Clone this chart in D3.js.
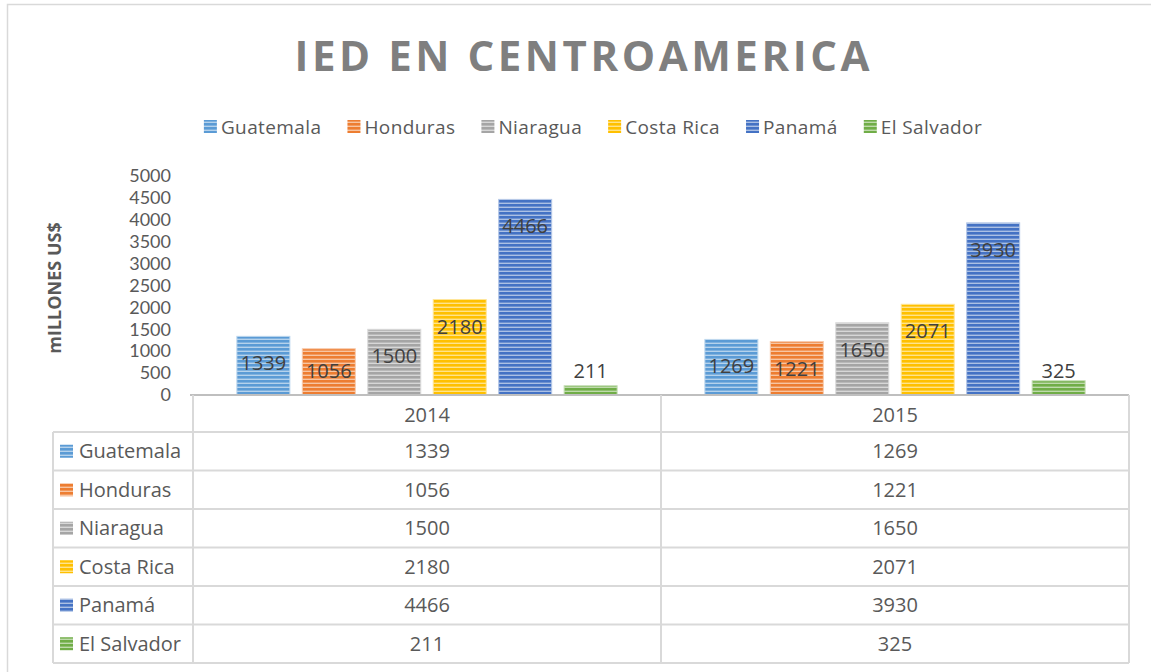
<!DOCTYPE html>
<html>
<head>
<meta charset="utf-8">
<script src="https://cdn.jsdelivr.net/npm/d3@7"></script>
<style>
  body { margin: 0; background: #fff; }
  svg { font-family: "Open Sans", sans-serif; }
</style>
</head>
<body>
<svg id="chart" width="1151" height="672"></svg>
<script>
// chart data
const years = ["2014", "2015"];
const countries = ["Guatemala", "Honduras", "Niaragua", "Costa Rica", "Panamá", "El Salvador"];
const values2014 = [1339, 1056, 1500, 2180, 4466, 211];
const values2015 = [1269, 1221, 1650, 2071, 3930, 325];
const yTicks = [0, 500, 1000, 1500, 2000, 2500, 3000, 3500, 4000, 4500, 5000];
const colors = ["#5b9bd5", "#ed7d31", "#a5a5a5", "#ffc000", "#4472c4", "#70ad47"];

const seriesByYear = { "2014": values2014, "2015": values2015 };

const svg = d3.select("#chart");

// outer chart border (cropped at right/bottom like the reference)
svg.append("path")
  .attr("d", "M7.5,672 L7.5,4.5 L1151,4.5")
  .attr("fill", "none")
  .attr("stroke", "#d9d9d9")
  .attr("stroke-width", 1.5);

// striped fill patterns
const defs = svg.append("defs");
countries.forEach((c, i) => {
  const p = defs.append("pattern")
    .attr("id", "pat" + i)
    .attr("patternUnits", "userSpaceOnUse")
    .attr("width", 8)
    .attr("height", 4);
  p.append("rect").attr("width", 8).attr("height", 4)
    .attr("fill", d3.interpolateRgb(colors[i], "#fff")(0.55));
  p.append("rect").attr("width", 8).attr("height", 2.6)
    .attr("fill", colors[i]);
});

// title
svg.append("text")
  .attr("x", 582)
  .attr("y", 71)
  .attr("text-anchor", "middle")
  .attr("textLength", 575)
  .attr("lengthAdjust", "spacing")
  .style("font-size", "42px")
  .style("font-weight", "bold")
  .attr("fill", "#7f7f7f")
  .text("IED EN CENTROAMERICA");

// legend
const legend = svg.append("g");
let lx = 0;
countries.forEach((c, i) => {
  const g = legend.append("g").attr("transform", `translate(${lx},0)`);
  g.append("rect")
    .attr("x", 0).attr("y", -7)
    .attr("width", 13).attr("height", 13)
    .attr("fill", `url(#pat${i})`);
  const t = g.append("text")
    .attr("x", 17).attr("y", 7)
    .style("font-size", "19px")
    .style("letter-spacing", "0.4px")
    .attr("fill", "#595959")
    .text(c);
  lx += 17 + t.node().getComputedTextLength() + 26;
});
lx -= 26;
legend.attr("transform", `translate(${593 - lx / 2},127)`);

// scales
const x0 = d3.scaleBand()
  .domain(years)
  .range([193, 1129])
  .padding(0);

const x1 = d3.scaleBand()
  .domain(countries)
  .range([0, x0.bandwidth()])
  .paddingInner(0.19)
  .paddingOuter(0.67);

const y = d3.scaleLinear()
  .domain([0, 5000])
  .range([395, 176]);

// y axis labels (tight font so the stacked labels stay clear of each other)
svg.append("g")
  .attr("transform", "translate(171,0)")
  .call(d3.axisLeft(y).tickValues(yTicks).tickFormat(d3.format("d")).tickSize(0).tickPadding(0))
  .call(g => g.select(".domain").remove())
  .call(g => g.selectAll("text")
    .style("font-family", "Lato, sans-serif")
    .style("font-size", "18px")
    .attr("fill", "#595959"));

// y axis title
svg.append("text")
  .attr("transform", "translate(61,288) rotate(-90)")
  .attr("text-anchor", "middle")
  .style("font-size", "18px")
  .style("font-weight", "bold")
  .attr("fill", "#595959")
  .text("mILLONES US$");

// bars
const groups = svg.append("g")
  .selectAll("g")
  .data(years)
  .join("g")
  .attr("transform", d => `translate(${x0(d)},0)`);

groups.selectAll("rect")
  .data(yr => countries.map((c, i) => ({ key: c, i, value: seriesByYear[yr][i] })))
  .join("rect")
  .attr("x", d => x1(d.key))
  .attr("y", d => y(d.value))
  .attr("width", x1.bandwidth())
  .attr("height", d => y(0) - y(d.value))
  .attr("fill", d => `url(#pat${d.i})`)
  .attr("stroke", d => d3.interpolateRgb(colors[d.i], "#fff")(0.6))
  .attr("stroke-width", 1);

// data labels
groups.selectAll("text")
  .data(yr => countries.map((c, i) => ({ key: c, i, value: seriesByYear[yr][i] })))
  .join("text")
  .attr("x", d => x1(d.key) + x1.bandwidth() / 2)
  .attr("y", d => Math.min(y(d.value) + 27, y(0) - 24))
  .attr("dy", "0.35em")
  .attr("text-anchor", "middle")
  .style("font-size", "20px")
  .attr("fill", "#404040")
  .text(d => d.value);

// data table
const rowTop = 432, rowH = 38.5, headTop = 395;
const tableRight = 1129, labelLeft = 53;
const lineColor = "#d9d9d9";
const table = svg.append("g");

// horizontal lines
table.append("line")
  .attr("x1", 190).attr("x2", tableRight)
  .attr("y1", headTop).attr("y2", headTop)
  .attr("stroke", "#bfbfbf").attr("stroke-width", 2);
countries.concat([""]).forEach((c, i) => {
  table.append("line")
    .attr("x1", labelLeft).attr("x2", tableRight)
    .attr("y1", rowTop + i * rowH).attr("y2", rowTop + i * rowH)
    .attr("stroke", lineColor).attr("stroke-width", 2);
});
const tableBottom = rowTop + countries.length * rowH;

// vertical lines
[x0.range()[0], x0("2015"), tableRight].forEach(xv => {
  table.append("line")
    .attr("x1", xv).attr("x2", xv)
    .attr("y1", headTop).attr("y2", tableBottom)
    .attr("stroke", lineColor).attr("stroke-width", 2);
});
table.append("line")
  .attr("x1", labelLeft).attr("x2", labelLeft)
  .attr("y1", rowTop).attr("y2", tableBottom)
  .attr("stroke", lineColor).attr("stroke-width", 2);

// header (categories)
years.forEach(yr => {
  table.append("text")
    .attr("x", x0(yr) + x0.bandwidth() / 2)
    .attr("y", (headTop + rowTop) / 2 + 1)
    .attr("dy", "0.35em")
    .attr("text-anchor", "middle")
    .style("font-size", "20px")
    .attr("fill", "#595959")
    .text(yr);
});

// rows
countries.forEach((c, i) => {
  const cy = rowTop + i * rowH + rowH / 2;
  table.append("rect")
    .attr("x", 60).attr("y", cy - 6.5)
    .attr("width", 13).attr("height", 13)
    .attr("fill", `url(#pat${i})`);
  table.append("text")
    .attr("x", 79).attr("y", cy)
    .attr("dy", "0.35em")
    .style("font-size", "20px")
    .attr("fill", "#595959")
    .text(c);
  years.forEach(yr => {
    table.append("text")
      .attr("x", x0(yr) + x0.bandwidth() / 2)
      .attr("y", cy)
      .attr("dy", "0.35em")
      .attr("text-anchor", "middle")
      .style("font-size", "20px")
      .attr("fill", "#595959")
      .text(seriesByYear[yr][i]);
  });
});
</script>
</body>
</html>
